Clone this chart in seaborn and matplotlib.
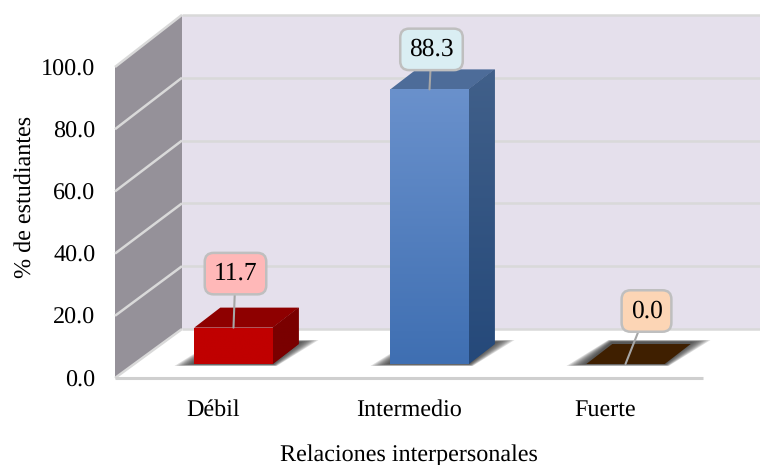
import numpy as np
import matplotlib
matplotlib.use('Agg')
import matplotlib.pyplot as plt
from matplotlib.colors import LinearSegmentedColormap
from matplotlib.patches import Polygon
import seaborn as sns

categories = ['Débil', 'Intermedio', 'Fuerte']
values = [11.7, 88.3, 0.0]
y_ticks = [0, 20, 40, 60, 80, 100]

front_colors = ['#C00000', '#3F6FB2', '#3F1F00']
front_tops = ['#C00000', '#6A91CC', '#3F1F00']
side_tops = ['#7A0000', '#41608A', '#3F1F00']
side_bottoms = ['#7A0000', '#25497A', '#3F1F00']
top_colors = ['#8E0000', '#4D6C99', '#3F1F00']
box_colors = ['#FFB8B8', '#DAEEF3', '#FCD5B5']
box_offsets = [(2, 54), (2, 40), (21, 53)]

sns.set_theme(style='white')
plt.rcParams['font.family'] = ['Liberation Serif', 'DejaVu Serif']
plt.rcParams['text.hinting'] = 'none'

W, H = 760, 465
fig = plt.figure(figsize=(W / 100, H / 100), dpi=100, facecolor='white')
ax = fig.add_axes([115 / W, (H - 378) / H, 588 / W, 311 / H])

# one pixel in data units
px = 3 / 588
py = 100 / 311

sns.barplot(x=categories, y=values, hue=categories, palette=front_colors,
            width=0.4, saturation=1, legend=False, ax=ax, zorder=5, linewidth=0)


def poly(points, color, z, **kw):
    p = Polygon(points, closed=True, facecolor=color, edgecolor='none',
                clip_on=False, zorder=z, **kw)
    ax.add_patch(p)
    return p


def line(xs, ys, z=2, color='#D9D9D9', lw=1.8):
    ax.plot(xs, ys, color=color, lw=lw, clip_on=False, zorder=z,
            solid_capstyle='butt')


def gradient(patch_obj, box, c_top, c_bottom, z):
    cmap = LinearSegmentedColormap.from_list('g', [c_top, c_bottom])
    im = ax.imshow(np.linspace(0, 1, 128)[:, None], extent=box, aspect='auto',
                   cmap=cmap, origin='upper', zorder=z)
    im.set_clip_path(patch_obj)


# walls and floor
x_left = -0.5
x_back = x_left + 67 * px
x_far = x_left + 645 * px
x_end = 2.5
back0 = 49 * py
back_k = 1.01

poly([(x_left, 0), (x_back, back0), (x_back, back0 + 100 * back_k), (x_left, 100)],
     '#959199', 1)
poly([(x_back, back0), (x_far, back0), (x_far, back0 + 100 * back_k),
      (x_back, back0 + 100 * back_k)], '#E5E0EC', 1)

for t in y_ticks:
    by = back0 + t * back_k
    line([x_left, x_back], [t, by])
    line([x_back, x_far], [by, by])
line([x_left, x_end], [0, 0], color='#CFCFCF', lw=2.2, z=3)

# bars sit a little behind the front plane and have a 3D depth
shift_x, shift_y = 20.5 * px, 14 * py
depth_x, depth_y = 26 * px, 20 * py

for i, bar in enumerate(ax.patches[:3]):
    bar.set_x(bar.get_x() + shift_x)
    bar.set_y(shift_y)
    bar.set_clip_on(False)
    x0 = bar.get_x()
    x1 = x0 + bar.get_width()
    y0 = shift_y
    y1 = y0 + values[i]

    # blurred floor shadow
    for g in range(9, 0, -1):
        gx = (g * 2.2) * px
        gy = (g * 0.22) * py
        poly([(x0 - gx, y0 - gy), (x1 + gx * 0.2, y0 - gy),
              (x1 + depth_x + gx, y0 + depth_y * 1.1 + gy),
              (x0 + depth_x - gx * 0.2, y0 + depth_y * 1.1 + gy)],
             '#303030', 3, alpha=0.16)

    # top and side faces
    poly([(x0, y1), (x1, y1), (x1 + depth_x, y1 + depth_y), (x0 + depth_x, y1 + depth_y)],
         top_colors[i], 6)
    if values[i] > 0:
        side = poly([(x1, y0), (x1 + depth_x, y0 + depth_y),
                     (x1 + depth_x, y1 + depth_y), (x1, y1)], side_bottoms[i], 6)
        gradient(side, (x1, x1 + depth_x, y0, y1 + depth_y), side_tops[i], side_bottoms[i], 6.5)
        gradient(bar, (x0, x1, y0, y1), front_tops[i], front_colors[i], 6.5)

    # value label with leader line
    ax.annotate(f'{values[i]:.1f}', xy=((x0 + x1) / 2, y1),
                xytext=box_offsets[i], textcoords='offset pixels',
                ha='center', va='center', fontsize=18.4, color='black', zorder=9,
                annotation_clip=False,
                bbox=dict(boxstyle='round,pad=0.35', fc=box_colors[i],
                          ec='#BFBFBF', lw=1.8),
                arrowprops=dict(arrowstyle='-', color='#A6A6A6', lw=1.5,
                                shrinkA=0, shrinkB=0))

ax.set_xlim(-0.5, 2.5)
ax.set_ylim(0, 100)
ax.patch.set_visible(False)
sns.despine(ax=ax, left=True, bottom=True)

ax.set_yticks(y_ticks)
ax.set_yticklabels([f'{t:.1f}' for t in y_ticks])
ax.set_xticks(range(3))
ax.set_xticklabels(categories)
ax.tick_params(axis='both', length=0, labelsize=17.4, labelcolor='black')
ax.tick_params(axis='y', pad=14)
ax.tick_params(axis='x', pad=15)
ax.grid(False)
ax.set_xlabel('Relaciones interpersonales', fontsize=17.4, color='black', labelpad=17)
ax.set_ylabel('% de estudiantes', fontsize=17.4, color='black', labelpad=4, y=0.583)

fig.savefig('out.png', dpi=100)
